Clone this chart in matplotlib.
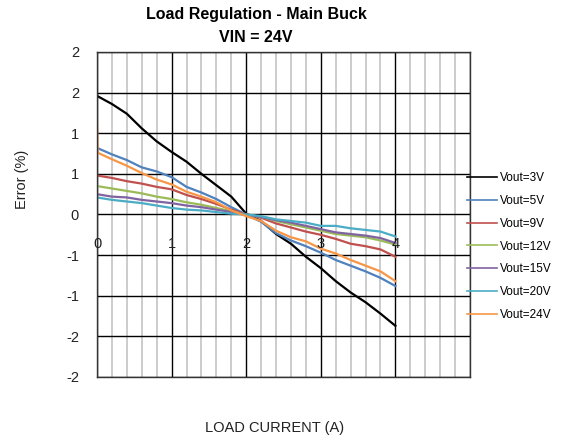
"""
Load regulation chart, main buck, VIN = 24V (matplotlib, headless).
"""

import matplotlib

matplotlib.use("Agg")
import matplotlib.pyplot as plt
import numpy as np

# load current (A) sample points
current = [0.0, 0.2, 0.4, 0.6, 0.8, 1.0, 1.2, 1.4, 1.6, 1.8, 2.0,
           2.2, 2.4, 2.6, 2.8, 3.0, 3.2, 3.4, 3.6, 3.8, 4.0]

# error (%) per output voltage
err_3v = [1.46, 1.36, 1.24, 1.06, 0.90, 0.77, 0.65, 0.50, 0.36, 0.22, 0.01,
          -0.08, -0.24, -0.36, -0.52, -0.66, -0.82, -0.96, -1.08, -1.22, -1.37]
err_5v = [0.82, 0.74, 0.67, 0.58, 0.53, 0.46, 0.34, 0.27, 0.19, 0.09, 0.00,
          -0.09, -0.23, -0.32, -0.39, -0.47, -0.56, -0.63, -0.70, -0.78, -0.88]
err_9v = [0.48, 0.45, 0.41, 0.38, 0.34, 0.31, 0.24, 0.19, 0.13, 0.06, 0.00,
          -0.04, -0.11, -0.16, -0.21, -0.25, -0.30, -0.36, -0.39, -0.43, -0.52]
err_12v = [0.35, 0.32, 0.29, 0.26, 0.22, 0.19, 0.15, 0.12, 0.08, 0.04, 0.00,
           -0.03, -0.08, -0.12, -0.16, -0.20, -0.24, -0.26, -0.28, -0.32, -0.37]
err_15v = [0.25, 0.22, 0.21, 0.18, 0.16, 0.14, 0.11, 0.09, 0.06, 0.03, 0.00,
           -0.03, -0.07, -0.10, -0.14, -0.18, -0.22, -0.24, -0.26, -0.29, -0.35]
err_20v = [0.21, 0.18, 0.16, 0.14, 0.11, 0.08, 0.06, 0.05, 0.03, 0.01, 0.00,
           -0.02, -0.06, -0.08, -0.10, -0.14, -0.14, -0.17, -0.19, -0.21, -0.27]
# 24V has a start-up spike right at 0 A
current_24v = [0.0, 0.01, 0.2, 0.4, 0.6, 0.8, 1.0, 1.2, 1.4, 1.6, 1.8, 2.0,
               2.2, 2.4, 2.6, 2.8, 3.0, 3.2, 3.4, 3.6, 3.8, 4.0]
err_24v = [1.13, 0.76, 0.68, 0.60, 0.51, 0.43, 0.37, 0.28, 0.22, 0.15, 0.05, -0.02,
           -0.08, -0.20, -0.28, -0.33, -0.42, -0.48, -0.56, -0.63, -0.70, -0.82]

series = [
    ("Vout=3V", current, err_3v, "#000000"),
    ("Vout=5V", current, err_5v, "#4F81BD"),
    ("Vout=9V", current, err_9v, "#C0504D"),
    ("Vout=12V", current, err_12v, "#9BBB59"),
    ("Vout=15V", current, err_15v, "#8064A2"),
    ("Vout=20V", current, err_20v, "#4BACC6"),
    ("Vout=24V", current_24v, err_24v, "#F79646"),
]

x_ticks = [0, 1, 2, 3, 4]
y_ticks = [2.0, 1.5, 1.0, 0.5, 0.0, -0.5, -1.0, -1.5, -2.0]
y_labels = ["2", "2", "1", "1", "0", "-1", "-1", "-2", "-2"]

plt.rcParams["font.family"] = ["Liberation Sans", "DejaVu Sans"]

fig = plt.figure(figsize=(5.61, 4.42), dpi=100)
ax = fig.add_axes([97 / 561, 1 - 377 / 442, (470 - 97) / 561, (377 - 52) / 442])

ax.set_xlim(0, 5)
ax.set_ylim(-2, 2)

# grid: grey minor verticals, black majors
ax.set_xticks(np.arange(0, 5.01, 0.2), minor=True)
ax.set_xticks(x_ticks)
ax.set_yticks(y_ticks)
ax.grid(which="minor", axis="x", color="#c8c8c8", lw=1.3)
ax.grid(which="major", color="black", lw=1.0)
ax.set_axisbelow(True)
ax.set_xticklabels([])
ax.set_yticklabels(y_labels, fontsize=10.5, color="#222222")
ax.tick_params(which="both", length=0)
ax.tick_params(axis="y", pad=13)
for s in ax.spines.values():
    s.set_color("#333333")
    s.set_linewidth(1.0)

for label, x, y, c in series:
    ax.plot(x, y, color=c, lw=1.6, label=label)

# x tick labels sit inside the plot, just under the zero line
for t in x_ticks:
    ax.text(t, -0.36, str(t), ha="center", va="center", fontsize=10.5,
            color="#222222")

fig.text(256 / 561, 1 - 14 / 442, "Load Regulation - Main Buck",
         ha="center", va="center", fontsize=11.5, fontweight="bold")
fig.text(256 / 561, 1 - 37 / 442, "VIN = 24V",
         ha="center", va="center", fontsize=11.5, fontweight="bold")
fig.text(22 / 561, 1 - 179 / 442, "Error (%)", rotation=90,
         ha="center", va="center", fontsize=10.5, color="#222222")
fig.text(275 / 561, 1 - 428 / 442, "LOAD CURRENT (A)",
         ha="center", va="center", fontsize=10.5, color="#222222")

leg = fig.legend(loc="upper left", bbox_to_anchor=(467 / 561, 1 - 172 / 442),
                 frameon=False, fontsize=8.5, handlelength=2.55,
                 handletextpad=0.2, labelspacing=0.92, borderpad=0,
                 borderaxespad=0)
for h in leg.get_lines():
    h.set_linewidth(1.2)

fig.savefig("out.png", dpi=100)
